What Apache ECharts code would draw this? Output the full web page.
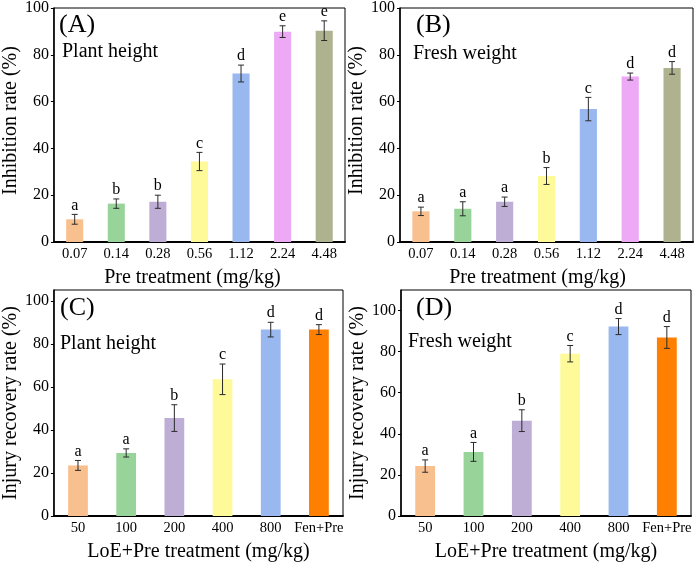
<!DOCTYPE html>
<html>
<head>
<meta charset="utf-8">
<script src="https://cdn.jsdelivr.net/npm/echarts@6/dist/echarts.min.js"></script>
<style>
  html, body { margin: 0; padding: 0; background: #fff; }
  #chart { width: 696px; height: 563px; }
</style>
</head>
<body>
<div id="chart"></div>
<script>
// categories
var catsPre = ['0.07', '0.14', '0.28', '0.56', '1.12', '2.24', '4.48']
var catsLoE = ['50', '100', '200', '400', '800', 'Fen+Pre']

// (A) plant height inhibition
var plantInhib = [9.7, 16.4, 17.2, 34.4, 72.0, 89.9, 90.3]
var plantInhibErr = [2.1, 2.0, 2.8, 3.9, 3.6, 2.5, 4.2]
var plantInhibSig = ['a', 'b', 'b', 'c', 'd', 'e', 'e']

// (B) fresh weight inhibition
var freshInhib = [13.1, 14.2, 17.2, 28.2, 56.8, 70.7, 74.4]
var freshInhibErr = [1.8, 3.0, 2.0, 3.6, 5.0, 1.5, 2.7]
var freshInhibSig = ['a', 'a', 'a', 'b', 'c', 'd', 'd']

// (C) plant height recovery
var plantRecov = [23.5, 29.3, 45.5, 63.5, 86.6, 86.6]
var plantRecovErr = [2.3, 1.9, 6.2, 7.1, 3.4, 2.3]
var plantRecovSig = ['a', 'a', 'b', 'c', 'd', 'd']

// (D) fresh weight recovery
var freshRecov = [24.3, 31.2, 46.4, 79.0, 92.2, 86.9]
var freshRecovErr = [3.0, 4.6, 5.3, 4.0, 3.9, 5.3]
var freshRecovSig = ['a', 'a', 'b', 'c', 'd', 'd']

var yTicks = [0, 20, 40, 60, 80, 100]

var preColors = ['#F9C08F', '#98D49A', '#BEAED6', '#FEFA99', '#98B8EF', '#EDA8F6', '#AFB28E']
var loeColors = ['#F9C08F', '#98D49A', '#BEAED6', '#FEFA99', '#98B8EF', '#FF7F00']

var font = '"Liberation Serif", "Times New Roman", serif'

var panels = [
  { left: 52, top: 7, width: 293, height: 235, max: 100, cats: catsPre, vals: plantInhib, err: plantInhibErr, sig: plantInhibSig, colors: preColors, yName: 'Inhibition rate (%)', xName: 'Pre treatment (mg/kg)', xPad: [0, 14, 0, 0], yPad: [0, 0, 0, 9] },
  { left: 400, top: 7, width: 293, height: 235, max: 100, cats: catsPre, vals: freshInhib, err: freshInhibErr, sig: freshInhibSig, colors: preColors, yName: 'Inhibition rate (%)', xName: 'Pre treatment (mg/kg)', xPad: [0, 18, 0, 0], yPad: [0, 0, 0, 9] },
  { left: 53, top: 290, width: 290, height: 235, max: 105, cats: catsLoE, vals: plantRecov, err: plantRecovErr, sig: plantRecovSig, colors: loeColors, yName: 'Injury recovery rate (%)', xName: 'LoE+Pre treatment (mg/kg)', xPad: 0, yPad: 0 },
  { left: 401, top: 290, width: 290, height: 235, max: 110, cats: catsLoE, vals: freshRecov, err: freshRecovErr, sig: freshRecovSig, colors: loeColors, yName: 'Injury recovery rate (%)', xName: 'LoE+Pre treatment (mg/kg)', xPad: 0, yPad: 0 }
]

var grid = [], xAxis = [], yAxis = [], series = []

panels.forEach(function (p, k) {
  grid.push({
    left: p.left, top: p.top, width: p.width, height: p.height,
    show: true, borderColor: '#000', borderWidth: 1, backgroundColor: 'transparent'
  })
  xAxis.push({
    gridIndex: k,
    type: 'category',
    data: p.cats,
    name: p.xName,
    nameLocation: 'middle',
    nameGap: 26,
    nameTextStyle: { fontFamily: font, fontSize: 20, color: '#000', padding: p.xPad },
    axisLine: { lineStyle: { color: '#000', width: 2 } },
    axisTick: { show: false },
    axisLabel: { interval: 0, fontFamily: font, fontSize: 14.5, color: '#000', margin: 5 },
    splitLine: { show: false }
  })
  yAxis.push({
    gridIndex: k,
    type: 'value',
    min: 0,
    max: p.max,
    interval: 20,
    name: p.yName,
    nameLocation: 'middle',
    nameGap: 30,
    nameTextStyle: { fontFamily: font, fontSize: 20, color: '#000', padding: p.yPad },
    axisLine: { show: true, lineStyle: { color: '#000', width: 1.5 } },
    axisTick: { show: true, length: 3, inside: false, customValues: yTicks, lineStyle: { color: '#000' } },
    axisLabel: { fontFamily: font, fontSize: 16, color: '#000', margin: 5, customValues: yTicks },
    splitLine: { show: false }
  })
  series.push({
    type: 'bar',
    xAxisIndex: k,
    yAxisIndex: k,
    barWidth: '41%',
    data: p.vals.map(function (v, i) {
      return { value: v, itemStyle: { color: p.colors[i] } }
    })
  })
  series.push({
    type: 'custom',
    xAxisIndex: k,
    yAxisIndex: k,
    z: 5,
    data: p.vals.map(function (v, i) { return [i, v - p.err[i], v + p.err[i]] }),
    renderItem: function (params, api) {
      var lo = api.coord([api.value(0), api.value(1)])
      var hi = api.coord([api.value(0), api.value(2)])
      var x = lo[0], w = 3
      var st = { stroke: '#2a2a2a', lineWidth: 1 }
      return {
        type: 'group',
        children: [
          { type: 'line', shape: { x1: x, y1: lo[1], x2: x, y2: hi[1] }, style: st },
          { type: 'line', shape: { x1: x - w, y1: lo[1], x2: x + w, y2: lo[1] }, style: st },
          { type: 'line', shape: { x1: x - w, y1: hi[1], x2: x + w, y2: hi[1] }, style: st },
          {
            type: 'text',
            x: x, y: hi[1] - 1,
            style: {
              text: p.sig[params.dataIndex],
              fontFamily: font, fontSize: 16, fill: '#000',
              align: 'center', verticalAlign: 'bottom'
            }
          }
        ]
      }
    }
  })
})

function label (text, left, top, size) {
  return {
    type: 'text', left: left, top: top,
    style: { text: text, fontFamily: font, fontSize: size, fill: '#000' }
  }
}

var option = {
  animation: false,
  backgroundColor: '#fff',
  textStyle: { fontFamily: font },
  grid: grid,
  xAxis: xAxis,
  yAxis: yAxis,
  series: series,
  graphic: [
    label('(A)', 59, 12, 26),
    label('Plant height', 62, 42, 20),
    label('(B)', 416, 12, 26),
    label('Fresh weight', 413, 44, 20),
    label('(C)', 60, 295, 26),
    label('Plant height', 60, 334, 20),
    label('(D)', 416, 295, 26),
    label('Fresh weight', 408, 332, 20)
  ]
}

var myChart = echarts.init(document.getElementById('chart'), null, { renderer: 'canvas', devicePixelRatio: 1 })
myChart.setOption(option)
</script>
</body>
</html>
